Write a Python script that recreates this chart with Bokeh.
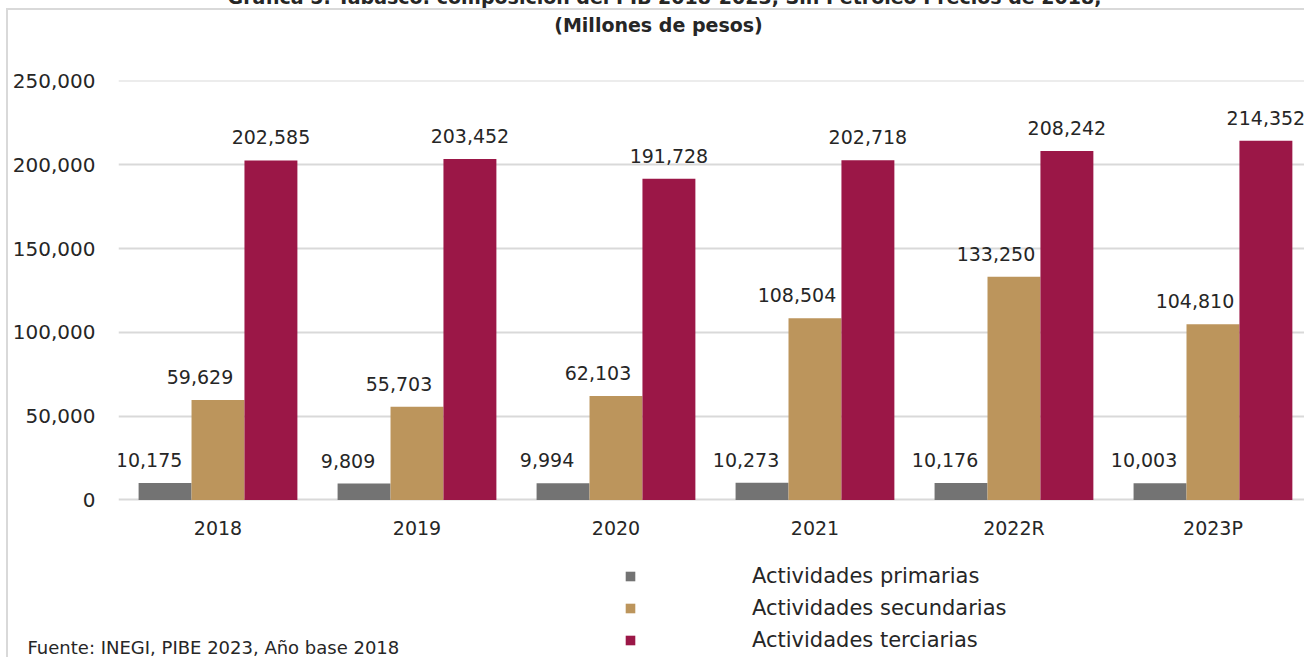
from bokeh.plotting import figure
from bokeh.models import (ColumnDataSource, FixedTicker, Range1d, Legend, LegendItem,
                          Label, NumeralTickFormatter)
from bokeh.transform import dodge
from bokeh.core.properties import value
from bokeh.embed import file_html
from bokeh.resources import INLINE

# ---- data ----
years = ["2018", "2019", "2020", "2021", "2022R", "2023P"]
primarias = [10175, 9809, 9994, 10273, 10176, 10003]
secundarias = [59629, 55703, 62103, 108504, 133250, 104810]
terciarias = [202585, 203452, 191728, 202718, 208242, 214352]
series_names = ["Actividades primarias", "Actividades secundarias", "Actividades terciarias"]
series_colors = ["#737373", "#bc955c", "#9b1747"]
y_ticks = [0, 50000, 100000, 150000, 200000, 250000]
title_lines = ["Gráfica 5. Tabasco: composición del PIB 2018-2023, Sin Petróleo Precios de 2018,",
               "(Millones de pesos)"]
source_note = "Fuente: INEGI, PIBE 2023, Año base 2018"

FONT = "DejaVu Sans"
TXT = "#262626"

xpos = [i + 0.5 for i in range(len(years))]
src = ColumnDataSource(dict(
    x=xpos,
    prim=primarias, sec=secundarias, ter=terciarias,
    prim_l=[f"{v:,}" for v in primarias],
    sec_l=[f"{v:,}" for v in secundarias],
    ter_l=[f"{v:,}" for v in terciarias],
))

# the plot frame reaches the bottom of the canvas; the value axis starts below zero
# so that the category axis (fixed at 0), the legend and the notes have room
p = figure(width=1304, height=657, x_range=Range1d(0, 5.96), y_range=Range1d(-93974, 250298),
           output_backend="svg", toolbar_location=None,
           min_border_left=118, min_border_right=0, min_border_top=80, min_border_bottom=0)
p.styles = {"background": "linear-gradient(#d9d9d9,#d9d9d9) 6px 8px / 100% 2px no-repeat, "
                          "linear-gradient(#d9d9d9,#d9d9d9) 6px 8px / 2px 100% no-repeat, #ffffff"}
p.outline_line_color = None
p.background_fill_color = "white"
p.border_fill_alpha = 0

bw = 0.266
offs = [-bw, 0.0, bw]
label_shift = [-16, -18, 0]
fields = ["prim", "sec", "ter"]
renderers = []
for f, o, c in zip(fields, offs, series_colors):
    r = p.vbar(x=dodge("x", o, range=p.x_range), top=f, width=bw, source=src,
               fill_color=c, line_color=None)
    renderers.append(r)
for f, o, s in zip(fields, offs, label_shift):
    p.text(x=dodge("x", o, range=p.x_range), y=f, text=f + "_l", source=src,
           text_align="center", text_baseline="middle", y_offset=-23, x_offset=s,
           text_font=value(FONT), text_font_size="19px", text_color=TXT)

# axes
p.xaxis.fixed_location = 0
p.xaxis.ticker = FixedTicker(ticks=xpos)
p.xaxis.major_label_overrides = {x: y for x, y in zip(xpos, years)}
p.yaxis.ticker = FixedTicker(ticks=y_ticks)
p.yaxis.formatter = NumeralTickFormatter(format="0,0")
for ax in (p.xaxis, p.yaxis):
    ax.axis_line_color = None
    ax.major_tick_line_color = None
    ax.minor_tick_line_color = None
    ax.major_label_text_font = FONT
    ax.major_label_text_color = TXT
p.xaxis.major_label_text_font_size = "19px"
p.yaxis.major_label_text_font_size = "20px"
p.xaxis.major_label_standoff = 11
p.yaxis.major_label_standoff = 17

p.xgrid.grid_line_color = None
p.ygrid.grid_line_color = "#d9d9d9"
p.ygrid.grid_line_width = 2

# legend inside the (extended) frame
legend = Legend(items=[LegendItem(label=n, renderers=[r]) for n, r in zip(series_names, renderers)],
                location=(506, 5), orientation="vertical",
                glyph_width=12, glyph_height=12, label_standoff=116, label_height=20,
                spacing=8, padding=0, margin=0, border_line_color=None,
                background_fill_alpha=0, label_text_font=FONT, label_text_font_size="21px",
                label_text_color=TXT)
p.add_layout(legend)

# titles and source note (canvas positioned)
p.add_layout(Label(x=664, y=-4, x_units="canvas", y_units="canvas", text=title_lines[0],
                   text_align="center", text_baseline="middle", text_font=FONT,
                   text_font_size="19px", text_font_style="bold", text_color=TXT), "above")
p.add_layout(Label(x=658, y=24, x_units="canvas", y_units="canvas", text=title_lines[1],
                   text_align="center", text_baseline="middle", text_font=FONT,
                   text_font_size="19px", text_font_style="bold", text_color=TXT), "above")
p.add_layout(Label(x=27, y=647, x_units="canvas", y_units="canvas", text=source_note,
                   text_align="left", text_baseline="middle", text_font=FONT,
                   text_font_size="18px", text_color=TXT), "above")

open("out.html", "w").write(file_html(p, INLINE))
